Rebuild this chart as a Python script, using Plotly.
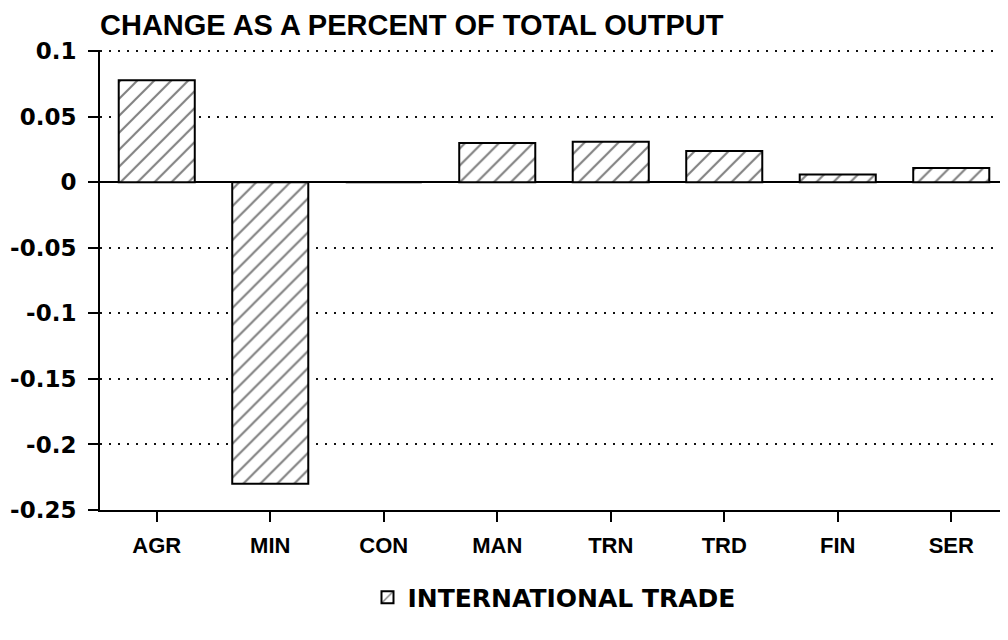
import plotly.graph_objects as go

categories = ["AGR", "MIN", "CON", "MAN", "TRN", "TRD", "FIN", "SER"]
intl_trade = [0.078, -0.23, 0.0, 0.030, 0.031, 0.024, 0.006, 0.011]
y_tickvals = [0.1, 0.05, 0.0, -0.05, -0.1, -0.15, -0.2, -0.25]
y_ticktext = ["0.1", "0.05", "0", "-0.05", "-0.1", "-0.15", "-0.2", "-0.25"]

fig = go.Figure()
fig.add_trace(go.Bar(
    x=categories, y=intl_trade, name="INTERNATIONAL TRADE",
    marker=dict(color="white", line=dict(color="black", width=2),
                pattern=dict(shape="/", fgcolor="black", bgcolor="white", size=12, solidity=0.17)),
))

fig.update_layout(
    width=1000, height=632,
    paper_bgcolor="white", plot_bgcolor="white",
    margin=dict(l=92, r=0, t=42, b=130, autoexpand=False),
    bargap=0.33,
    showlegend=True,
    title=dict(text="CHANGE AS A PERCENT OF TOTAL OUTPUT", xref="container", x=92/1000, xanchor="left",
               yref="container", y=1 - 17/632, yanchor="middle",
               font=dict(family="Liberation Sans", size=29, color="black", weight="bold")),
    legend=dict(orientation="h", x=0.5, xanchor="center", y=-0.19, yanchor="middle",
                font=dict(family="DejaVu Sans", size=25, color="black", weight="bold"),
                bgcolor="rgba(0,0,0,0)"),
)

fig.update_yaxes(
    range=[-0.25, 0.101], tickvals=y_tickvals, ticktext=y_ticktext, automargin=False,
    showline=True, linecolor="black", linewidth=2,
    ticks="outside", ticklen=10, tickwidth=2, tickcolor="black",
    showgrid=True, gridcolor="#111", gridwidth=1.5, griddash="2px,7px",
    zeroline=True, zerolinecolor="black", zerolinewidth=2,
    tickfont=dict(family="DejaVu Sans", size=23, color="black", weight="bold"),
    ticklabelstandoff=7,
)
fig.update_xaxes(
    automargin=False,
    showline=True, linecolor="black", linewidth=2,
    ticks="outside", ticklen=10, tickwidth=2, tickcolor="black",
    showgrid=False,
    tickfont=dict(family="Liberation Sans", size=22, color="black", weight="bold"),
    ticklabelstandoff=5,
)

fig.write_html("out.html")
